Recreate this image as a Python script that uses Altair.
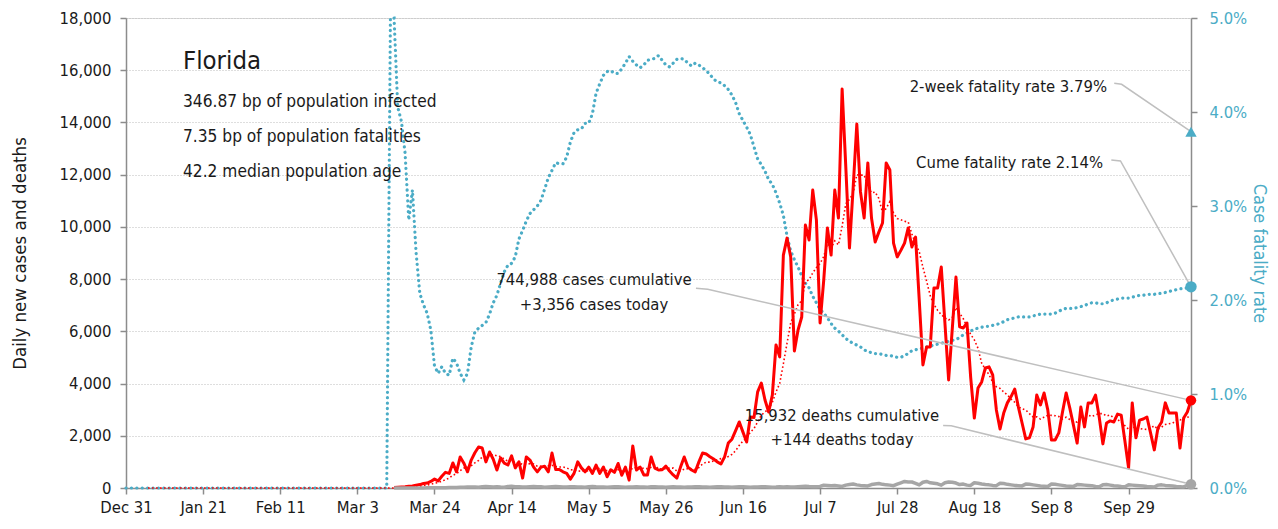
import altair as alt
import pandas as pd

FONT = "DejaVu Sans Condensed, sans-serif"
RED = "#FF0000"
TEAL = "#4BACC6"
GREY = "#A6A6A6"
AXIS_GREY = "#8C8C8C"
INK = "#1A1A1A"

# ---------------- data ----------------
first_day = "2019-12-31"
last_day = "2020-10-16"
tick_dates = ["2019-12-31", "2020-01-21", "2020-02-11", "2020-03-03", "2020-03-24",
              "2020-04-14", "2020-05-05", "2020-05-26", "2020-06-16", "2020-07-07",
              "2020-07-28", "2020-08-18", "2020-09-08", "2020-09-29"]
left_ticks = [0, 2000, 4000, 6000, 8000, 10000, 12000, 14000, 16000, 18000]
right_ticks = [0, 1, 2, 3, 4, 5]

series_start = "2020-03-13"
daily_cases = [
    20, 30, 40, 50, 65, 80, 110, 130,
    170, 190, 250, 340, 270, 450, 600, 560, 960, 620,
    1190, 950, 620, 1070, 1350, 1570, 1530, 1000, 1380, 1100,
    690, 1150, 950, 880, 1230, 770, 1000, 380, 1190, 1070,
    800, 620, 800, 830, 620, 1340, 710, 710, 620, 560,
    340, 560, 1000, 770, 620, 800, 560, 880, 560, 800,
    430, 700, 600, 940, 490, 800, 300, 1610, 690, 800,
    500, 500, 1190, 760, 690, 700, 840, 650, 500, 380,
    800, 1190, 800, 690, 620, 1000, 1340, 1300, 1200, 1110,
    1000, 920, 1190, 1720, 1870, 2200, 2530, 2140, 1760, 2720,
    2700, 3680, 4020, 3370, 2910, 3560, 5480, 5020, 8920, 9570,
    8850, 5250, 6050, 6550, 10070, 9500, 11410, 10260, 6320, 7970,
    9960, 8920, 11410, 10340, 15280, 12300, 9190, 11500, 13940, 11340,
    10340, 12450, 10340, 9420, 9800, 10150, 12450, 12180, 9380, 8850,
    9100, 9380, 9960, 9230, 9610, 7200, 4710, 5400, 5400, 7660,
    7660, 8460, 6300, 4140, 6100, 8080, 6170, 6130, 6320, 4250,
    2680, 3830, 4060, 4600, 4640, 4330, 2990, 2260, 2870, 3260,
    3500, 3790, 3100, 2490, 1880, 1920, 2340, 3560, 3180, 3640,
    2990, 1840, 1840, 2110, 2900, 3640, 3060, 2400, 1720, 3100,
    2340, 3260, 3260, 3560, 2720, 1690, 2490, 2570, 2530, 2830,
    2790, 1800, 770, 3260, 1920, 2600, 2640, 2720, 2100, 1460,
    2300, 2530, 3260, 2870, 2870, 2870, 1530, 2680, 2910, 3356,
]
daily_deaths = [
    0, 1, 1, 2, 1, 3, 2, 4, 3, 5, 7, 9, 10, 12, 14, 18, 16, 20, 24,
    30, 35, 40, 38, 28, 45, 55, 50, 42, 48, 38, 32, 55, 65, 52, 44, 38, 34, 48, 56,
    52, 44, 30, 40, 52, 58, 48, 40, 34, 44,
    45, 40, 35, 30, 50, 55, 45, 40, 35, 30, 40, 50, 45, 40, 30, 35, 40, 50, 40, 35,
    30, 45, 50, 40, 35, 30, 40, 45, 40, 35, 30,
    35, 40, 45, 50, 40, 35, 30, 40, 45, 50, 40, 35, 30, 40, 45, 50, 40, 30, 35, 40,
    45, 50, 40, 30, 35, 45, 40, 50, 35, 40,
    50, 60, 70, 55, 45, 50, 60, 110, 100, 90, 95, 80, 60, 110, 130, 150, 120, 100, 90, 80,
    130, 150, 170, 140, 120, 110, 90, 150, 200, 250, 230,
    230, 180, 120, 220, 250, 200, 180, 160, 110, 200, 230, 220, 190, 130, 150, 110, 100, 200,
    180, 150, 130, 120, 100, 90, 180, 170, 140, 120, 100, 90, 80,
    150, 140, 120, 100, 80, 70, 60, 150, 140, 120, 100, 80, 70, 60, 130, 120, 110, 100, 90, 60,
    50, 120, 130, 110, 90, 80, 60, 50, 120, 110,
    100, 90, 80, 60, 50, 40, 110, 120, 100, 90, 80, 60, 50, 40, 100, 144,
]
cfr_start = "2020-03-11"
cfr_pct = [
    0.0, 5.0, 5.0, 4.05, 3.9, 3.56, 2.85, 3.17, 2.5, 2.07,
    1.95, 1.86, 1.68, 1.3, 1.22, 1.29, 1.22, 1.2, 1.38, 1.33,
    1.22, 1.15, 1.22, 1.5, 1.66, 1.7, 1.73, 1.76, 1.85, 1.97,
    2.05, 2.18, 2.3, 2.37, 2.39, 2.46, 2.65, 2.74, 2.84, 2.92,
    2.96, 3.0, 3.06, 3.18, 3.3, 3.38, 3.46, 3.45, 3.45, 3.52,
    3.68, 3.78, 3.81, 3.82, 3.88, 3.88, 3.98, 4.2, 4.3, 4.39,
    4.43, 4.44, 4.41, 4.41, 4.46, 4.52, 4.59, 4.54, 4.5, 4.47,
    4.5, 4.55, 4.56, 4.57, 4.6, 4.55, 4.5, 4.48, 4.52, 4.56,
    4.57, 4.56, 4.52, 4.49, 4.52, 4.5, 4.47, 4.44, 4.4, 4.35,
    4.32, 4.31, 4.28, 4.24, 4.18, 4.1, 3.98, 3.91, 3.84, 3.76,
    3.63, 3.5, 3.44, 3.37, 3.28, 3.23, 3.14, 3.03, 2.9, 2.68,
    2.52, 2.43, 2.35, 2.26, 2.18, 2.13, 2.04, 1.97, 1.9, 1.86,
    1.81, 1.75, 1.7, 1.67, 1.63, 1.59, 1.56, 1.54, 1.52, 1.5,
    1.47, 1.45, 1.44, 1.43, 1.43, 1.42, 1.41, 1.41, 1.40, 1.39,
    1.39, 1.41, 1.43, 1.46, 1.47, 1.48, 1.49, 1.50, 1.51, 1.52,
    1.53, 1.54, 1.55, 1.56, 1.57, 1.58, 1.60, 1.63, 1.65, 1.67,
    1.69, 1.70, 1.71, 1.72, 1.72, 1.73, 1.74, 1.75, 1.77, 1.79,
    1.80, 1.81, 1.82, 1.82, 1.82, 1.82, 1.83, 1.84, 1.85, 1.85,
    1.85, 1.85, 1.86, 1.88, 1.90, 1.91, 1.91, 1.91, 1.92, 1.93,
    1.94, 1.96, 1.97, 1.97, 1.96, 1.96, 1.97, 1.99, 2.00, 2.01,
    2.02, 2.02, 2.02, 2.03, 2.04, 2.05, 2.05, 2.06, 2.06, 2.06,
    2.07, 2.07, 2.08, 2.09, 2.10, 2.11, 2.12, 2.12, 2.13, 2.14,
]
two_week_rate = 3.79
cum_cases = 744988
cum_deaths = 15932
today_cases = 3356
today_deaths = 144
state_name = "Florida"
stat_lines = ["346.87 bp of population infected",
              "7.35 bp of population fatalities",
              "42.2 median population age"]

# ---------------- frames ----------------
DAY_MS = 86400000
EPOCH = pd.Timestamp("1970-01-01")


def to_ms(d):
    return int((pd.Timestamp(d) - EPOCH) / pd.Timedelta(milliseconds=1))


t0 = to_ms(first_day)
dates = pd.date_range(first_day, last_day, freq="D")
n = len(dates)
off_s = (pd.Timestamp(series_start) - pd.Timestamp(first_day)).days
off_c = (pd.Timestamp(cfr_start) - pd.Timestamp(first_day)).days
assert off_s + len(daily_cases) == n, len(daily_cases)
assert off_s + len(daily_deaths) == n, len(daily_deaths)
assert off_c + len(cfr_pct) == n, len(cfr_pct)

t_ms = [t0 + i * DAY_MS for i in range(n)]
cases_df = pd.DataFrame({"t": t_ms, "day": list(range(n)),
                         "value": [0] * off_s + daily_cases})
deaths_df = pd.DataFrame({"t": t_ms[off_s:], "value": daily_deaths})
cfr_df = pd.DataFrame({"t": t_ms, "pct": [0.0] * off_c + cfr_pct})


def at(day):
    return t0 + day * DAY_MS


last = n - 1
cases_leader = pd.DataFrame({"t": [at(155.2), at(158.4), at(last)],
                             "value": [7650, 7610, today_cases], "o": [0, 1, 2]})
deaths_leader = pd.DataFrame({"t": [at(222.5), at(224.7), at(last)],
                              "value": [2390, 2380, today_deaths], "o": [0, 1, 2]})
twoweek_leader = pd.DataFrame({"t": [at(269.1), at(271.1), at(last)],
                               "pct": [4.305, 4.295, two_week_rate], "o": [0, 1, 2]})
cume_leader = pd.DataFrame({"t": [at(268.3), at(270.8), at(last)],
                            "pct": [3.49, 3.48, cfr_pct[-1]], "o": [0, 1, 2]})

# ---------------- encodings ----------------
X = alt.X("t:T", title=None,
          scale=alt.Scale(type="utc", domain=[to_ms(first_day), to_ms(last_day)]),
          axis=alt.Axis(values=[to_ms(d) for d in tick_dates], format="%b %-d",
                        labelFont=FONT, labelFontSize=16.5, labelColor=INK,
                        labelPadding=5, labelFlush=False, labelOverlap=False,
                        domainColor=AXIS_GREY, domainWidth=1.5,
                        tickColor=AXIS_GREY, tickSize=6, tickWidth=1.5, grid=False))

YL = alt.Y("value:Q", scale=alt.Scale(domain=[0, 18000], nice=False),
           axis=alt.Axis(values=left_ticks, labelExpr="format(datum.value, ',')",
                         orient="left",
                         grid=True, gridColor="#BDBDBD", gridDash=[1, 2], gridWidth=1,
                         domainColor=AXIS_GREY, domainWidth=1.5,
                         tickColor=AXIS_GREY, tickSize=6, tickWidth=1.5,
                         labelFont=FONT, labelFontSize=16.5, labelColor=INK, labelPadding=9,
                         title="Daily new cases and deaths", titleFont=FONT,
                         titleFontSize=18.5, titleFontWeight="normal", titleColor=INK,
                         titleAngle=270, titleX=-107, titleY=235,
                         titleAlign="center", titleBaseline="middle"))

YR = alt.Y("pct:Q", scale=alt.Scale(domain=[0, 5], nice=False),
           axis=alt.Axis(values=right_ticks, orient="right", grid=False,
                         labelExpr="format(datum.value, '.1f') + '%'",
                         domainColor=AXIS_GREY, domainWidth=1.5,
                         tickColor=AXIS_GREY, tickSize=6, tickWidth=1.5,
                         labelFont=FONT, labelFontSize=16.5, labelColor=TEAL, labelPadding=12,
                         title="Case fatality rate", titleFont=FONT, titleFontSize=18,
                         titleFontWeight="normal", titleColor=TEAL,
                         titleAngle=90, titleX=67, titleY=235,
                         titleAlign="center", titleBaseline="middle"))

# ---------------- right (fatality rate) group ----------------
cfr_line = alt.Chart(cfr_df).mark_line(
    color=TEAL, strokeWidth=3.2, strokeDash=[0.1, 5.3], strokeCap="round"
).encode(x=X, y=YR)

tw_leader = alt.Chart(twoweek_leader).mark_line(color="#BFBFBF", strokeWidth=1.5).encode(
    x=X, y=YR, order="o:Q")
cu_leader = alt.Chart(cume_leader).mark_line(color="#BFBFBF", strokeWidth=1.5).encode(
    x=X, y=YR, order="o:Q")

cfr_end = alt.Chart(cfr_df.tail(1)).mark_point(
    shape="circle", filled=True, size=130, color=TEAL, opacity=1).encode(x=X, y=YR)
tw_mark = alt.Chart(pd.DataFrame({"t": [at(last)], "pct": [two_week_rate]})).mark_point(
    shape="triangle-up", filled=True, size=130, color=TEAL, opacity=1).encode(x=X, y=YR)

right = alt.layer(cfr_line, tw_leader, cu_leader, cfr_end, tw_mark)

# ---------------- left (cases / deaths) group ----------------
ma_line = alt.Chart(cases_df).transform_window(
    ma="mean(value)", frame=[-6, 0], sort=[alt.SortField("t")]
).transform_filter(alt.datum.day >= 6).transform_calculate(
    value="datum.ma"
).mark_line(color=RED, strokeWidth=1.6, strokeDash=[1.6, 2.4]).encode(x=X, y=YL)

cases_line = alt.Chart(cases_df).transform_filter(
    alt.datum.day >= off_s
).mark_line(color=RED, strokeWidth=3, strokeJoin="round").encode(x=X, y=YL)

deaths_line = alt.Chart(deaths_df).mark_line(
    color=GREY, strokeWidth=3.5, strokeJoin="round").encode(x=X, y=YL)

c_leader = alt.Chart(cases_leader).mark_line(color="#BFBFBF", strokeWidth=1.5).encode(
    x=X, y=YL, order="o:Q")
d_leader = alt.Chart(deaths_leader).mark_line(color="#BFBFBF", strokeWidth=1.5).encode(
    x=X, y=YL, order="o:Q")

cases_end = alt.Chart(cases_df.tail(1)).mark_point(
    shape="circle", filled=True, size=110, color=RED, opacity=1).encode(x=X, y=YL)
deaths_end = alt.Chart(deaths_df.tail(1)).mark_point(
    shape="circle", filled=True, size=110, color=GREY, opacity=1).encode(x=X, y=YL)

one = alt.Data(values=[{"k": 1}])


def label(text, x, y, size, align="left"):
    return alt.Chart(one).mark_text(
        text=text, font=FONT, fontSize=size, color=INK, align=align,
        baseline="alphabetic").encode(x=alt.value(x), y=alt.value(y))


texts = [
    label(state_name, 57, 51, 25.5),
    label(stat_lines[0], 57, 89, 17.2),
    label(stat_lines[1], 57, 124, 17.2),
    label(stat_lines[2], 57, 159, 17.2),
    label(f"{cum_cases:,} cases cumulative", 468, 267, 16.5, "center"),
    label(f"+{today_cases:,} cases today", 468, 292, 16.5, "center"),
    label(f"{cum_deaths:,} deaths cumulative", 716, 403, 16.5, "center"),
    label(f"+{today_deaths:,} deaths today", 716, 427, 16.5, "center"),
    label(f"2-week fatality rate {two_week_rate:.2f}%", 981, 74, 16.5, "right"),
    label(f"Cume fatality rate {cfr_pct[-1]:.2f}%", 977, 150, 16.5, "right"),
]

left = alt.layer(ma_line, cases_line, deaths_line, c_leader, d_leader,
                 cases_end, deaths_end, *texts)

chart = alt.layer(right, left).resolve_scale(y="independent").properties(
    width=1065, height=470,
    autosize=alt.AutoSizeParams(type="none"),
    padding={"left": 118, "top": 10, "right": 79, "bottom": 31},
).configure_view(stroke=None).configure(font=FONT, background="white")

chart.save("out.html", embed_options={"renderer": "svg", "actions": False})
